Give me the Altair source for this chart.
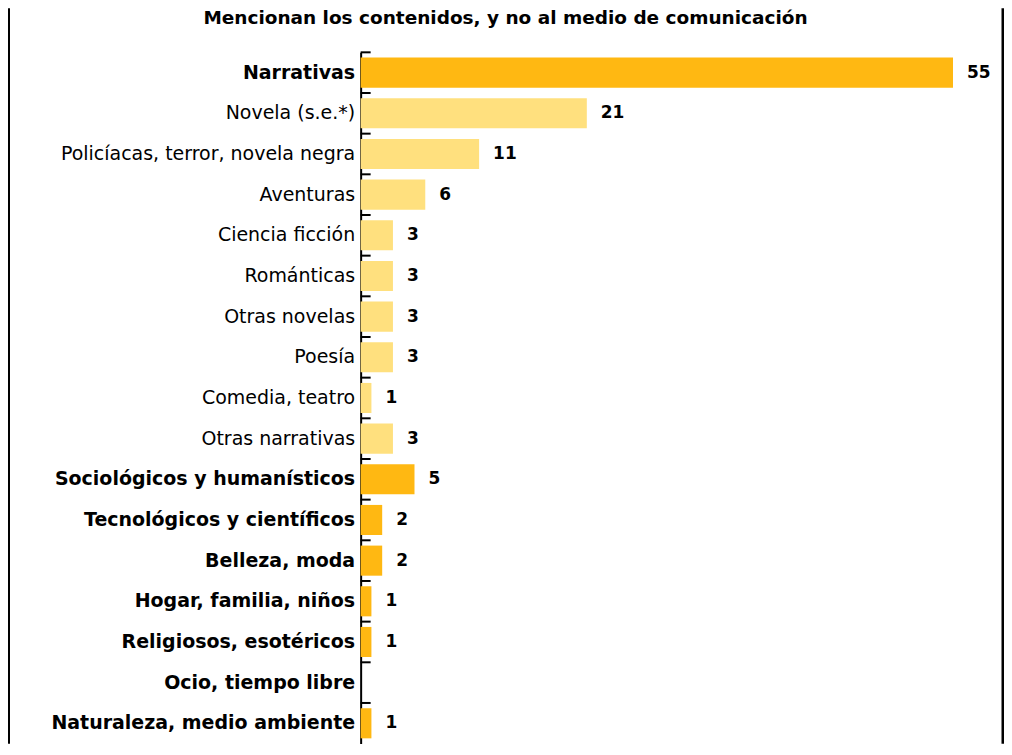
import json
import altair as alt
import pandas as pd

title_text = "Mencionan los contenidos, y no al medio de comunicación"

categories = [
    "Narrativas",
    "Novela (s.e.*)",
    "Policíacas, terror, novela negra",
    "Aventuras",
    "Ciencia ficción",
    "Románticas",
    "Otras novelas",
    "Poesía",
    "Comedia, teatro",
    "Otras narrativas",
    "Sociológicos y humanísticos",
    "Tecnológicos y científicos",
    "Belleza, moda",
    "Hogar, familia, niños",
    "Religiosos, esotéricos",
    "Ocio, tiempo libre",
    "Naturaleza, medio ambiente",
]
values = [55, 21, 11, 6, 3, 3, 3, 3, 1, 3, 5, 2, 2, 1, 1, None, 1]
levels = ["main"] + ["sub"] * 9 + ["main"] * 7

labels = ["" if v is None else str(v) for v in values]
main_cats = [c for c, l in zip(categories, levels) if l == "main"]

df = pd.DataFrame({"category": categories, "value": values, "level": levels, "label": labels})
one = pd.DataFrame({"k": [0]})

FONT = "DejaVu Sans"
PL, PT, PR = 353, 44, 2
W, H = 642, 692
N = len(categories)
PI, PO = 0.26, 0.13
STEP = H / N

bold_expr = "indexof(%s, datum.value) >= 0 ? 'bold' : 'normal'" % json.dumps(main_cats, ensure_ascii=False)

yaxis = alt.Axis(
    title=None, ticks=False, domainColor="black", domainWidth=2,
    labelFont=FONT, labelFontSize=19, labelColor="black", labelPadding=6,
    labelLimit=400, labelFontWeight=alt.expr(bold_expr),
)
yscale = alt.Scale(domain=categories, paddingInner=PI, paddingOuter=PO)
xenc = alt.X("value:Q", scale=alt.Scale(domain=[0, 59.55], nice=False, zero=True), axis=None)
yenc = alt.Y("category:N", sort=categories, scale=yscale, axis=yaxis)

bars = alt.Chart(df).mark_bar().encode(
    x=xenc, y=yenc,
    color=alt.Color("level:N", scale=alt.Scale(domain=["main", "sub"], range=["#FFB812", "#FFE07E"]), legend=None),
)
texts = alt.Chart(df).mark_text(
    align="left", baseline="middle", dx=14, font=FONT, fontSize=17, fontWeight="bold", color="black"
).encode(x=xenc, y=yenc, text="label:N")

ticks = alt.Chart(df).mark_rule(color="black", strokeWidth=2, yOffset=-STEP * PO).encode(
    y=alt.Y("category:N", sort=categories, scale=yscale, axis=yaxis, bandPosition=0),
    x=alt.value(0), x2=alt.value(10),
)

left_border = alt.Chart(one).mark_rule(color="black", strokeWidth=3).encode(
    x=alt.value(-352.5), y=alt.value(-PT), y2=alt.value(H)
)
right_border = alt.Chart(one).mark_rule(color="black", strokeWidth=3).encode(
    x=alt.value(643), y=alt.value(-PT), y2=alt.value(H)
)
title = alt.Chart(one).mark_text(
    text=title_text, font=FONT, fontSize=18.5, fontWeight="bold", align="center", baseline="middle", color="black"
).encode(x=alt.value(145), y=alt.value(-34))

chart = alt.layer(bars, texts, ticks, left_border, right_border, title).properties(
    width=W, height=H,
    padding={"left": PL, "top": PT, "right": PR, "bottom": 0},
    autosize=alt.AutoSizeParams(type="none"),
).configure_view(stroke=None)

chart.save("out.html", embed_options={"renderer": "svg", "actions": False})
